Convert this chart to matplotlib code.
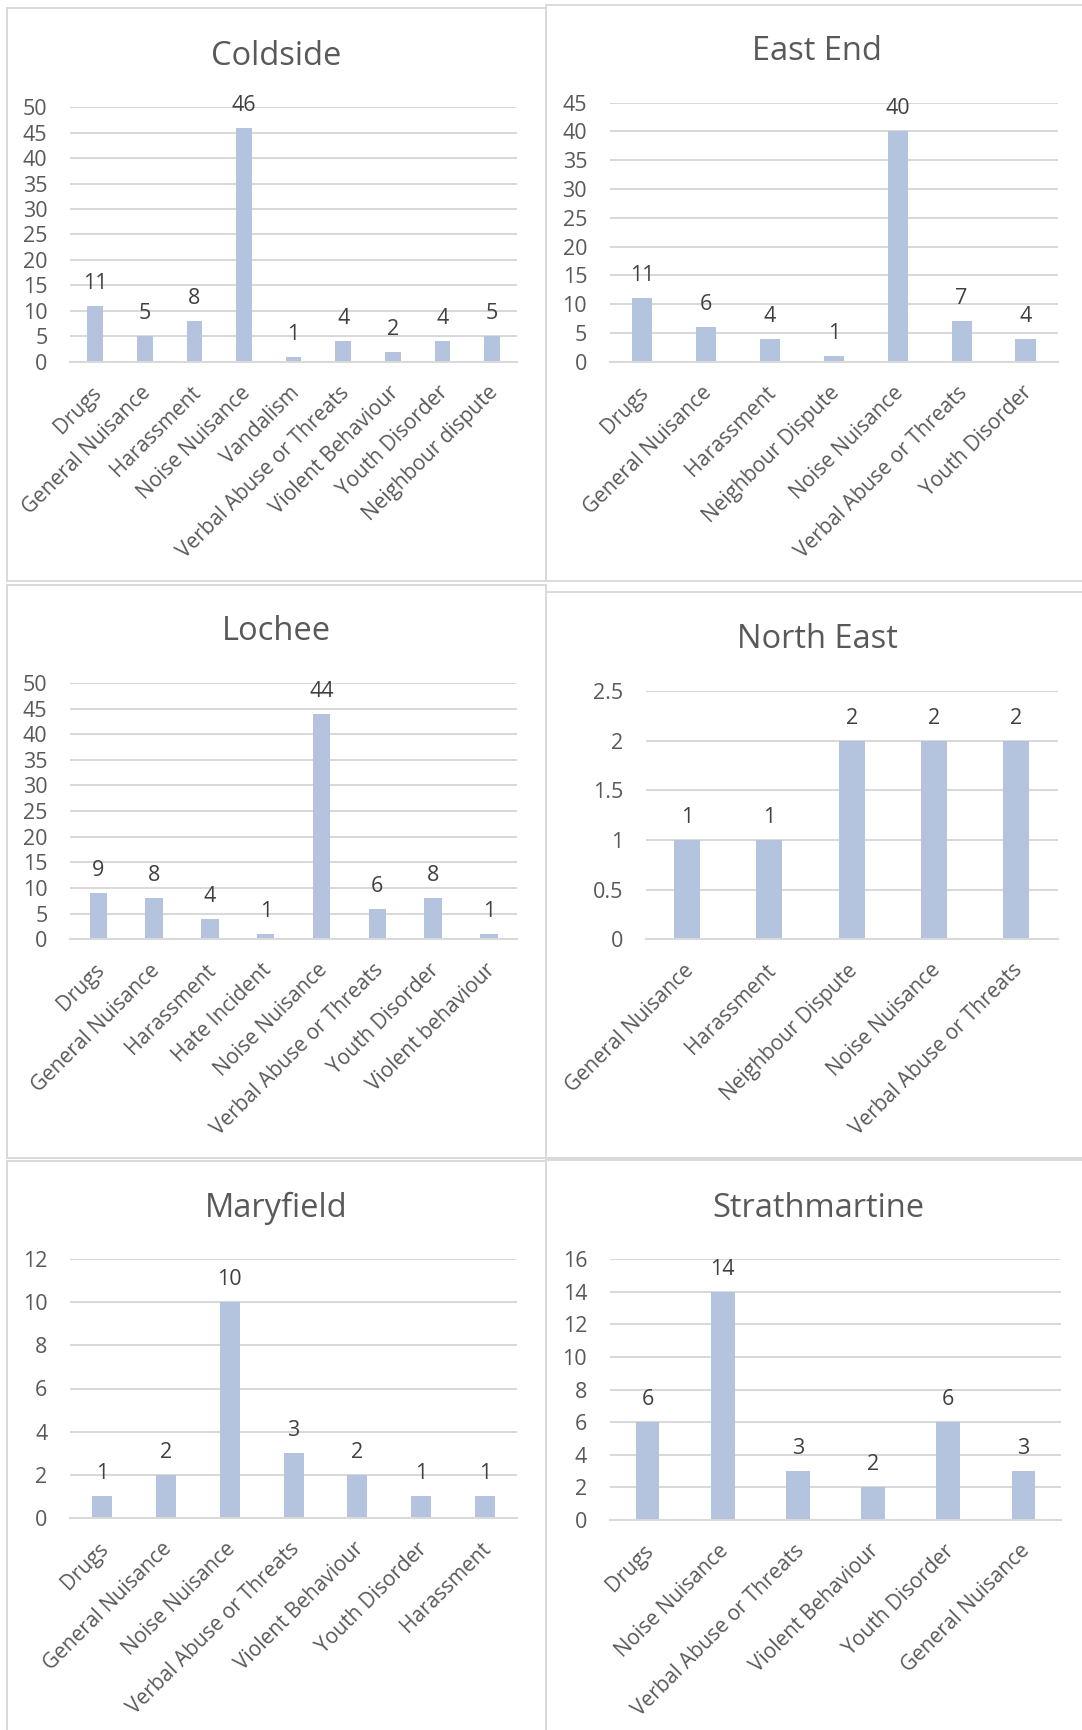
import matplotlib
matplotlib.use("Agg")
import matplotlib.pyplot as plt
from matplotlib.patches import Rectangle
import numpy as np

plt.rcParams['font.family'] = ['Open Sans', 'DejaVu Sans']

# incidents by ward
coldside_cats = ["Drugs", "General Nuisance", "Harassment", "Noise Nuisance", "Vandalism",
                 "Verbal Abuse or Threats", "Violent Behaviour", "Youth Disorder", "Neighbour dispute"]
coldside_vals = [11, 5, 8, 46, 1, 4, 2, 4, 5]

east_end_cats = ["Drugs", "General Nuisance", "Harassment", "Neighbour Dispute", "Noise Nuisance",
                 "Verbal Abuse or Threats", "Youth Disorder"]
east_end_vals = [11, 6, 4, 1, 40, 7, 4]

lochee_cats = ["Drugs", "General Nuisance", "Harassment", "Hate Incident", "Noise Nuisance",
               "Verbal Abuse or Threats", "Youth Disorder", "Violent behaviour"]
lochee_vals = [9, 8, 4, 1, 44, 6, 8, 1]

north_east_cats = ["General Nuisance", "Harassment", "Neighbour Dispute", "Noise Nuisance",
                   "Verbal Abuse or Threats"]
north_east_vals = [1, 1, 2, 2, 2]

maryfield_cats = ["Drugs", "General Nuisance", "Noise Nuisance", "Verbal Abuse or Threats",
                  "Violent Behaviour", "Youth Disorder", "Harassment"]
maryfield_vals = [1, 2, 10, 3, 2, 1, 1]

strath_cats = ["Drugs", "Noise Nuisance", "Verbal Abuse or Threats", "Violent Behaviour",
               "Youth Disorder", "General Nuisance"]
strath_vals = [6, 14, 3, 2, 6, 3]

titles = ["Coldside", "East End", "Lochee", "North East", "Maryfield", "Strathmartine"]
y_max = [50, 45, 50, 2.5, 12, 16]
y_step = [5, 5, 5, 0.5, 2, 2]

W, H = 1082, 1730
BAR = "#B4C3DE"
GRID = "#D9D9D9"
TXT = "#595959"
LBL = "#404040"

fig = plt.figure(figsize=(W / 100, H / 100), dpi=100)

# chart frames (x0, y0, x1, y1) in pixels
frames = [(7, 8, 546, 581), (546, 5, 1084, 581),
          (7, 585, 546, 1158), (546, 592, 1084, 1158),
          (7, 1161, 546, 1732), (546, 1160, 1084, 1732)]
# plot areas (left, right, top, bottom) in pixels
areas = [(70.4, 516.8, 107.2, 361.7), (610, 1057.5, 102.6, 361.7),
         (70.4, 516.8, 682.9, 939.3), (646, 1057.5, 691, 939.3),
         (70.4, 516.8, 1259, 1518), (610, 1061, 1259, 1520)]
# title centre x and baseline y in pixels
title_pos = [(276, 65), (817, 60.5), (276, 640), (817, 648.5), (276, 1216.6), (818, 1217)]

for x0, y0, x1, y1 in frames:
    fig.patches.append(Rectangle((x0 / W, 1 - y1 / H), (x1 - x0) / W, (y1 - y0) / H,
                                 transform=fig.transFigure, fill=False,
                                 edgecolor=GRID, linewidth=1.4))

data = [(coldside_cats, coldside_vals), (east_end_cats, east_end_vals),
        (lochee_cats, lochee_vals), (north_east_cats, north_east_vals),
        (maryfield_cats, maryfield_vals), (strath_cats, strath_vals)]


def fmt(v):
    return f"{v:g}"


for i, (cats, vals) in enumerate(data):
    l, r, t, b = areas[i]
    ax = fig.add_axes([l / W, 1 - b / H, (r - l) / W, (b - t) / H])
    x = np.arange(len(cats))
    ax.bar(x, vals, width=0.315, color=BAR, zorder=2)
    ax.set_xlim(-0.5, len(cats) - 0.5)
    ax.set_ylim(0, y_max[i])
    ticks = np.arange(0, y_max[i] + y_step[i] / 2, y_step[i])
    ax.set_yticks(ticks)
    ax.set_yticklabels([fmt(v) for v in ticks])
    ax.tick_params(axis='y', length=0, pad=16.5, labelsize=15.5, labelcolor=TXT)
    ax.set_xticks([])
    ax.grid(axis='y', color=GRID, linewidth=1.45, zorder=0)
    ax.set_axisbelow(True)
    for s in ("top", "right", "left"):
        ax.spines[s].set_visible(False)
    ax.spines["bottom"].set_color(GRID)
    ax.spines["bottom"].set_linewidth(1.45)

    # value labels above each bar
    for xi, v in zip(x, vals):
        ax.annotate(fmt(v), xy=(xi, v), xytext=(0, 17), textcoords='offset pixels',
                    ha='center', va='baseline', fontsize=15.5, color=LBL)
    # slanted category names
    for xi, c in zip(x, cats):
        ax.annotate(c, xy=(xi, 0), xytext=(3, -28), textcoords='offset pixels',
                    ha='right', va='center', rotation=45, rotation_mode='anchor',
                    fontsize=15, color=TXT, annotation_clip=False)

    cx, by = title_pos[i]
    fig.text(cx / W, 1 - by / H, titles[i], ha='center', va='baseline',
             fontsize=23.5, color=TXT)

fig.savefig("out.png", dpi=100, facecolor="white")
